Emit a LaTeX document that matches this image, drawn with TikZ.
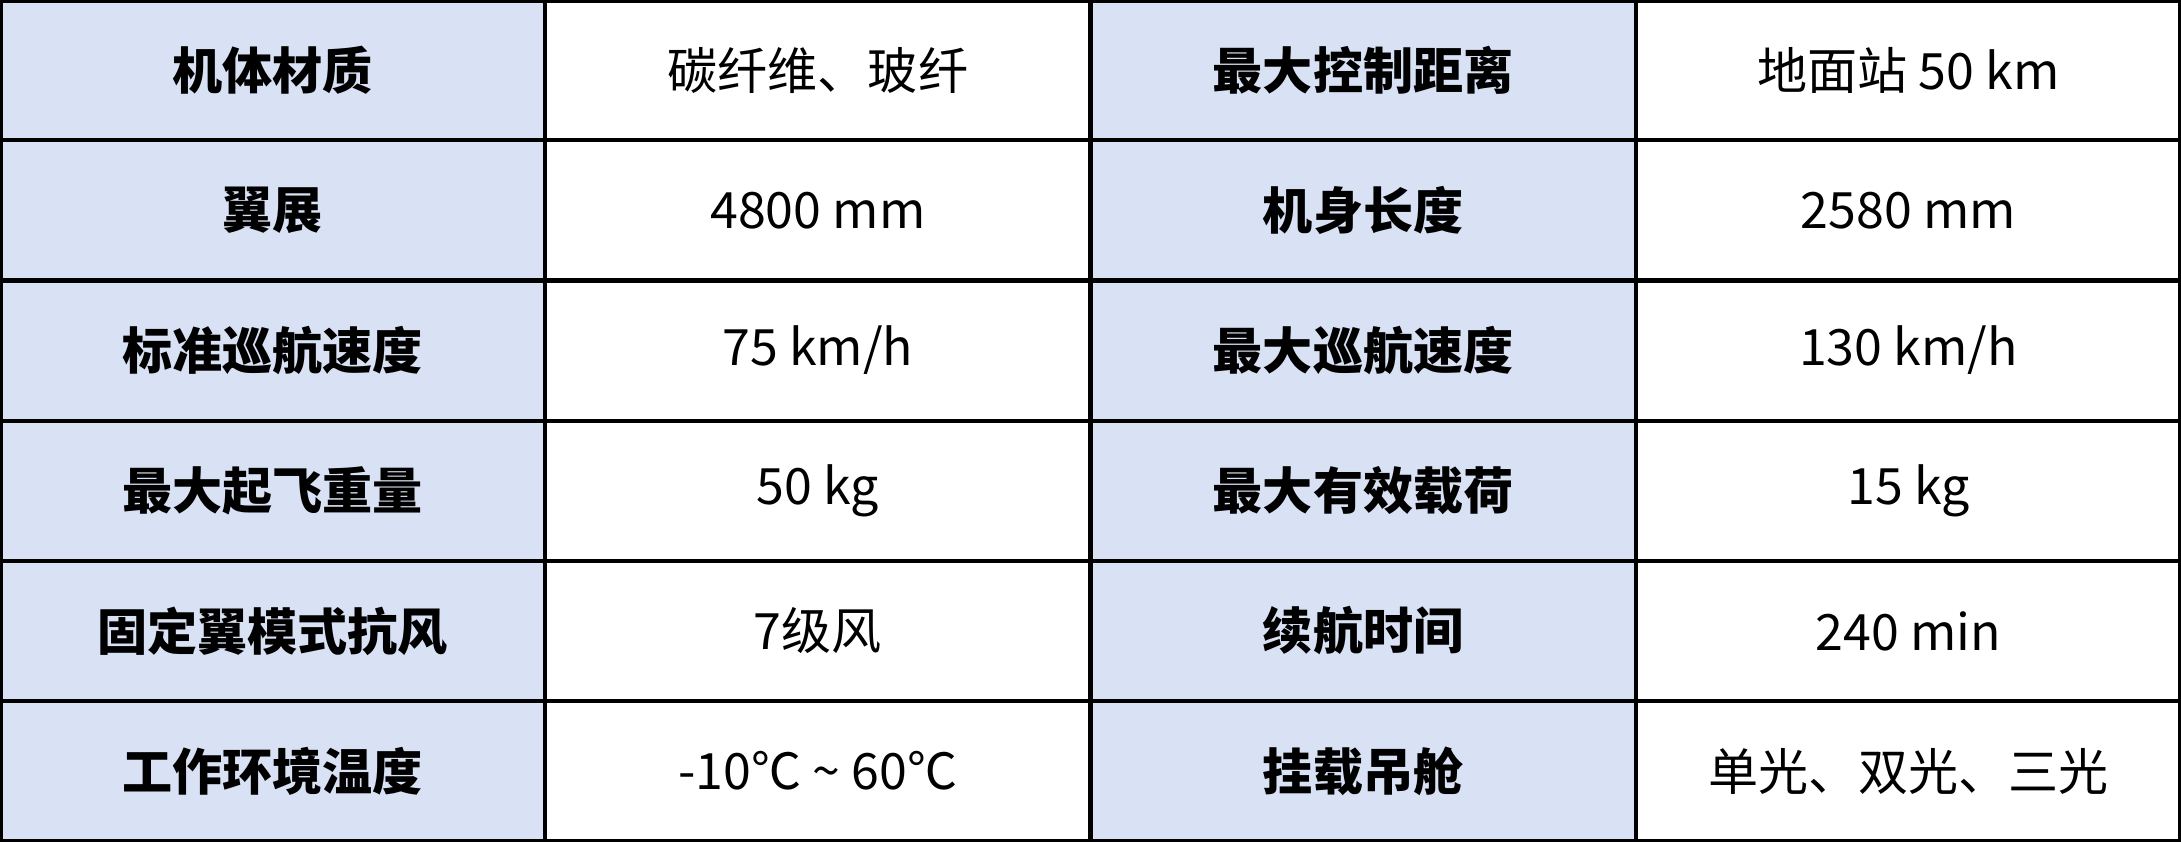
\documentclass[tikz,border=0pt]{standalone}
\usepackage{fontspec}
\setmainfont{Noto Sans CJK SC}
\definecolor{hdr}{HTML}{D9E2F5}
\begin{document}
\begin{tikzpicture}[x=1pt,y=-1pt,
  cell/.style={minimum width=392pt,minimum height=101pt,inner sep=0pt,font=\fontsize{36}{40}\selectfont},
  hd/.style={cell,font=\fontsize{36}{40}\selectfont\bfseries}]
\useasboundingbox (0,0) rectangle (1568,605);
\def\cw{392}\def\rh{100.8}
\foreach \r in {0,...,5}{
  \fill[hdr] (0,\r*\rh) rectangle (\cw,\r*\rh+\rh);
  \fill[hdr] (2*\cw,\r*\rh) rectangle (3*\cw,\r*\rh+\rh);
}
\foreach [count=\i from 0] \a/\b/\c/\d in {
 机体材质/碳纤维、玻纤/最大控制距离/地面站 50 km,
 翼展/4800 mm/机身长度/2580 mm,
 标准巡航速度/75 km\slash h/最大巡航速度/130 km\slash h,
 最大起飞重量/50 kg/最大有效载荷/15 kg,
 固定翼模式抗风/7级风/续航时间/240 min,
 工作环境温度/-10℃ \textasciitilde{} 60℃/挂载吊舱/单光、双光、三光}{
  \node[hd] (a\i) at (196,\i*\rh+\rh/2) {\a};
  \node[cell] (b\i) at (588,\i*\rh+\rh/2) {\b};
  \node[hd] (c\i) at (980,\i*\rh+\rh/2) {\c};
  \node[cell] (d\i) at (1372,\i*\rh+\rh/2) {\d};
}
\foreach \r in {1,...,5} \draw[line width=3pt] (0,\r*\rh) -- (1568,\r*\rh);
\foreach \c in {1,2,3} \draw[line width=3pt] (\c*\cw,0) -- (\c*\cw,605);
\draw[line width=4pt] (0,0) rectangle (1568,605);
\end{tikzpicture}
\end{document}
